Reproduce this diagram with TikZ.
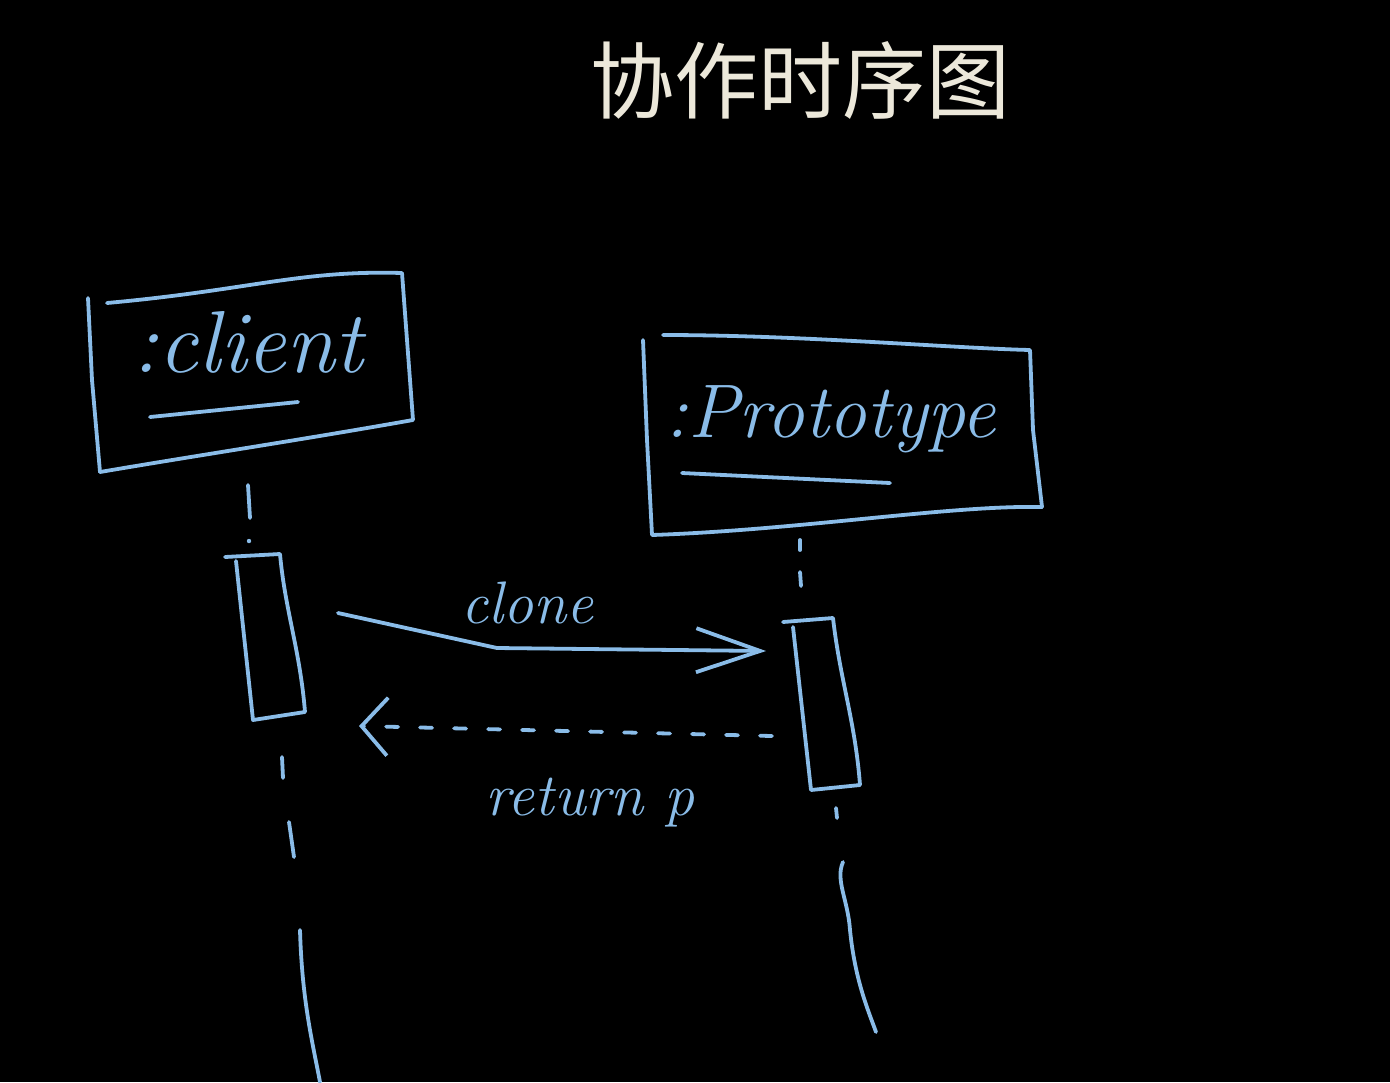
\documentclass[tikz,border=0pt]{standalone}
\usepackage{fontspec}
\newfontfamily\cjk{Noto Sans CJK SC}
\usetikzlibrary{arrows.meta}
\definecolor{chalk}{RGB}{138,188,232}
\definecolor{titlec}{RGB}{236,232,218}
\begin{document}
\begin{tikzpicture}[x=0.5pt,y=-0.5pt,
  hand/.style={draw=chalk,line width=1.9pt,line cap=round,line join=round},
  handtext/.style={text=chalk,inner sep=0pt},
  msgtip/.style={-{Straight Barb[length=32pt,width=22pt]}},
  rettip/.style={-{Straight Barb[length=13pt,width=29pt]}}]
\fill[black] (0,0) rectangle (1390,1082);
\useasboundingbox (0,0) rectangle (1390,1082);

% title
\node[text=titlec,font=\cjk\fontsize{42}{42}\selectfont] (title) at (800,80) {协作时序图};

% client object box
\draw[hand] (88,298) -- (92,380) -- (100,472);
\draw[hand] (107,303) .. controls (250,290) and (300,270) .. (402,273) -- (407,340) -- (413,420)
  .. controls (300,440) and (200,455) .. (100,472);
\node[handtext,font=\itshape\fontsize{44}{44}\selectfont,anchor=base west] (clienttxt) at (132,372) {:client};
\draw[hand] (150,417) -- (298,402);

% prototype object box
\draw[hand] (643,340) -- (647,440) -- (652,535) .. controls (800,530) and (950,505) .. (1042,507);
\draw[hand] (663,335) .. controls (800,335) and (950,348) .. (1030,350) -- (1033,430) -- (1042,507);
\node[handtext,font=\itshape\fontsize{38}{38}\selectfont,anchor=base west] (prototxt) at (665,437) {:Prototype};
\draw[hand] (682,473) -- (890,483);

% client lifeline and activation
\draw[hand] (248,485) -- (250,518);
\fill[chalk] (249,541) circle (2.2);
\draw[hand] (225,557) -- (280,554) .. controls (285,610) and (300,650) .. (305,712) -- (253,720) -- (236,561);
\draw[hand] (282,757) -- (283,778);
\draw[hand] (289,822) -- (294,857);
\draw[hand] (300,930) .. controls (302,1000) and (312,1040) .. (320,1082);

% prototype lifeline and activation
\draw[hand] (800,540) -- (800,550);
\draw[hand] (800,572) -- (801,586);
\draw[hand] (783,622) -- (833,618) .. controls (840,680) and (855,720) .. (860,785) -- (811,790) -- (793,627);
\draw[hand] (836,808) -- (837,818);
\draw[hand] (843,862) .. controls (835,880) and (848,900) .. (850,930) .. controls (855,980) and (868,1010) .. (876,1032);

% messages
\coordinate (cloneStart) at (338,613);
\coordinate (cloneEnd) at (766,651);
\draw[hand,msgtip] (cloneStart) -- (497,648) -- (cloneEnd);
\node[handtext,font=\itshape\fontsize{30}{30}\selectfont] (clonelbl) at (527,603) {clone};

\coordinate (retStart) at (772,736);
\coordinate (retEnd) at (359,726);
\draw[hand,rettip,dash pattern=on 6pt off 11pt] (retStart) -- (retEnd);
\node[handtext,font=\itshape\fontsize{30}{30}\selectfont] (retlbl) at (590,803) {return p};
\end{tikzpicture}
\end{document}
